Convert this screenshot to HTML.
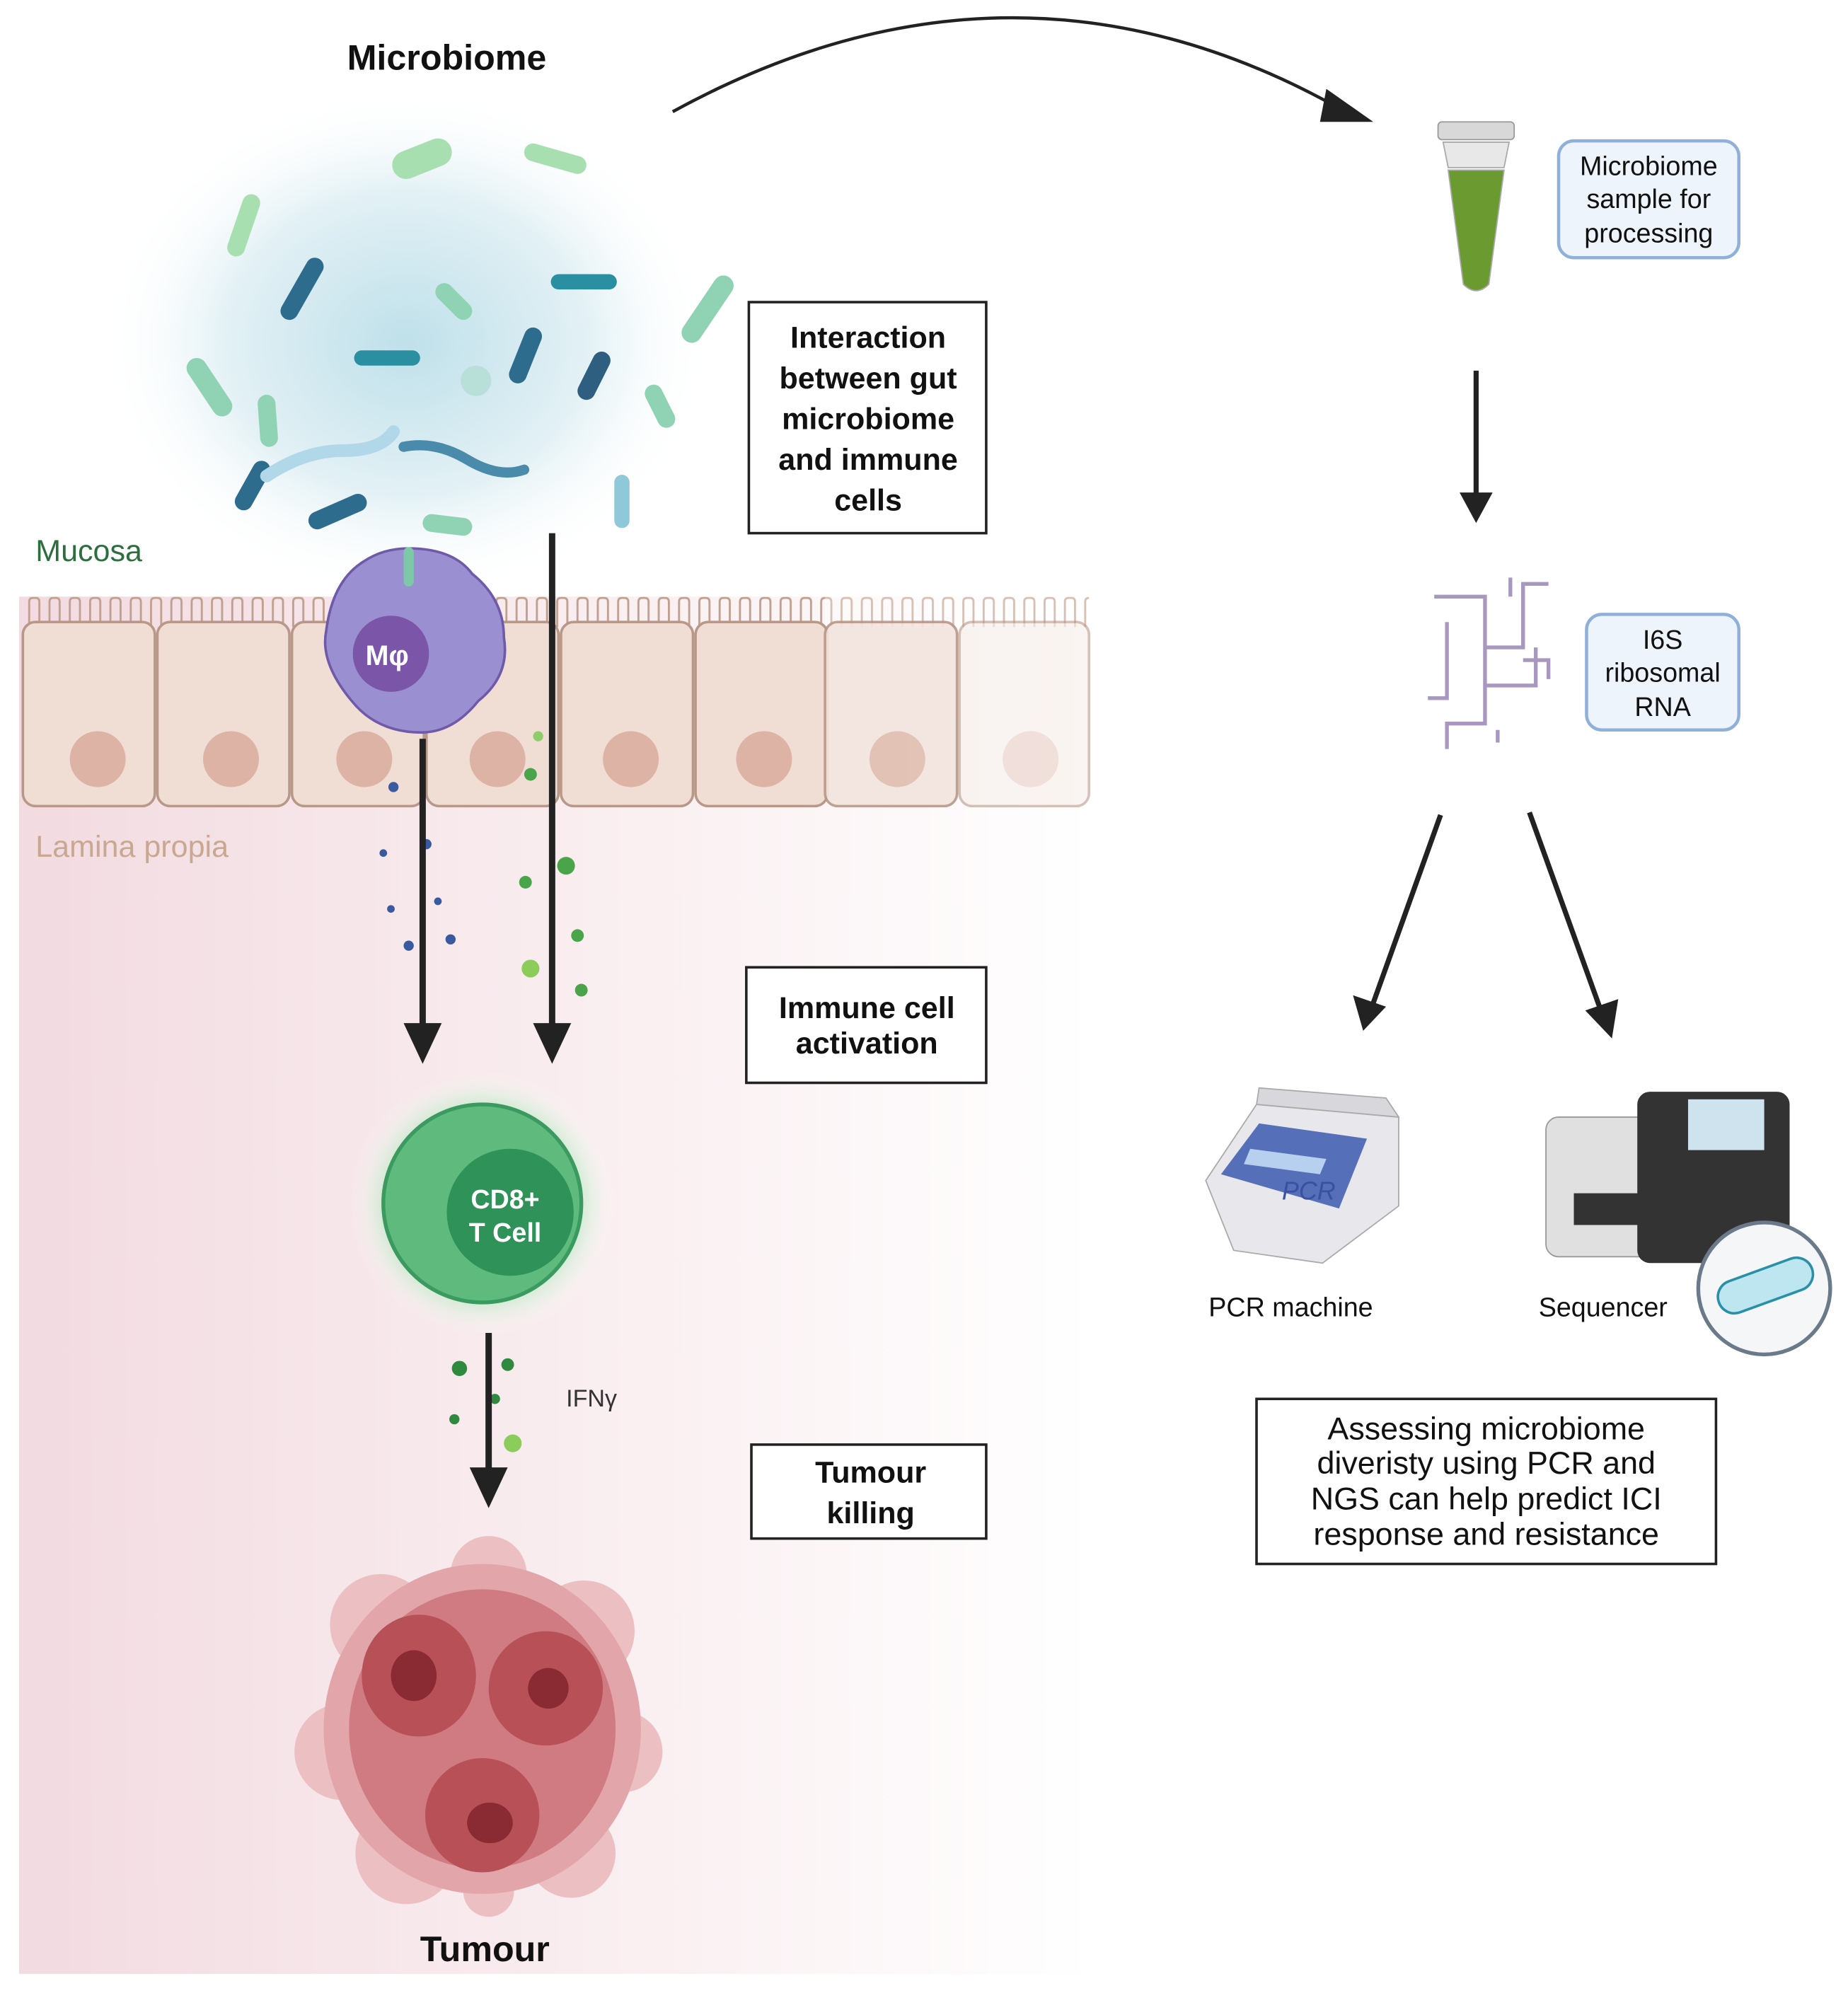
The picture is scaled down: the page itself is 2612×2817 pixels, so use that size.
<!DOCTYPE html>
<html><head><meta charset="utf-8"><style>
html,body{margin:0;padding:0;background:#fff}
svg{display:block}
text{font-family:"Liberation Sans",sans-serif}
</style></head><body>
<svg width="2612" height="2817" viewBox="0 0 1456 1570" preserveAspectRatio="none" xmlns="http://www.w3.org/2000/svg">
<defs>
<linearGradient id="bg" x1="0" x2="1" y1="0" y2="0">
<stop offset="0" stop-color="#f2dbe1"/><stop offset="0.6" stop-color="#faf0f2"/><stop offset="1" stop-color="#ffffff"/>
</linearGradient>
<radialGradient id="blue" cx="0.5" cy="0.5" r="0.5">
<stop offset="0" stop-color="#bfe0ea"/><stop offset="0.6" stop-color="#e3f1f5"/><stop offset="1" stop-color="#ffffff" stop-opacity="0"/>
</radialGradient>
<radialGradient id="glow" cx="0.5" cy="0.5" r="0.5">
<stop offset="0.6" stop-color="#9be0a8"/><stop offset="1" stop-color="#ffffff" stop-opacity="0"/>
</radialGradient>
<pattern id="villi" x="20" y="470" width="16" height="24" patternUnits="userSpaceOnUse">
<path d="M3,24 V4 q0,-3 3,-3 h2 q3,0 3,3 V24" fill="none" stroke="#c0a090" stroke-width="1.6"/>
</pattern>
</defs>
<rect x="15" y="470" width="845" height="1085" fill="url(#bg)"/>
<ellipse cx="320" cy="270" rx="240" ry="200" fill="url(#blue)"/>
<g stroke-linecap="round">
<line x1="228" y1="245" x2="248" y2="210" stroke="#2e6c8e" stroke-width="14"/>
<line x1="408" y1="295" x2="420" y2="265" stroke="#2e6c8e" stroke-width="14"/>
<line x1="462" y1="308" x2="474" y2="284" stroke="#2e5f80" stroke-width="14"/>
<line x1="192" y1="395" x2="206" y2="370" stroke="#2e6c8e" stroke-width="14"/>
<line x1="250" y1="410" x2="282" y2="396" stroke="#2e6c8e" stroke-width="14"/>
<line x1="285" y1="282" x2="325" y2="282" stroke="#2a8fa0" stroke-width="12"/>
<line x1="440" y1="222" x2="480" y2="222" stroke="#2a8fa0" stroke-width="12"/>
<line x1="175" y1="320" x2="155" y2="290" stroke="#8fd3b4" stroke-width="16"/>
<line x1="545" y1="262" x2="570" y2="225" stroke="#8fd3b4" stroke-width="16"/>
<line x1="186" y1="195" x2="198" y2="160" stroke="#a8dfb0" stroke-width="14"/>
<line x1="420" y1="120" x2="455" y2="130" stroke="#a8dfb0" stroke-width="14"/>
<line x1="320" y1="130" x2="345" y2="120" stroke="#a8dfb0" stroke-width="22"/>
<line x1="350" y1="230" x2="365" y2="245" stroke="#8fd3b4" stroke-width="14"/>
<line x1="515" y1="310" x2="525" y2="330" stroke="#8fd3b4" stroke-width="14"/>
<line x1="210" y1="318" x2="212" y2="345" stroke="#8fd3b4" stroke-width="14"/>
<line x1="340" y1="412" x2="365" y2="415" stroke="#8fd3b4" stroke-width="14"/>
<line x1="490" y1="380" x2="490" y2="410" stroke="#8fc8d8" stroke-width="12"/>
<circle cx="375" cy="300" r="12" fill="#b8e0d8"/>
<path d="M210,375 q30,-20 60,-20 t40,-15" stroke="#b0d8e8" stroke-width="10" fill="none"/>
<path d="M318,352 q25,-5 50,10 t45,8" stroke="#4a8aaa" stroke-width="8" fill="none"/>
</g>
<rect x="18" y="470" width="840" height="24" fill="url(#villi)"/>
<rect x="650" y="468" width="210" height="28" fill="#fff" opacity="0.35"/>
<g stroke="#b89888" stroke-width="2">
<rect x="18" y="490" width="104" height="145" rx="10" fill="#f0ddd4"/>
<rect x="124" y="490" width="104" height="145" rx="10" fill="#f0ddd4"/>
<rect x="230" y="490" width="104" height="145" rx="10" fill="#f0ddd4"/>
<rect x="336" y="490" width="104" height="145" rx="10" fill="#f0ddd4"/>
<rect x="442" y="490" width="104" height="145" rx="10" fill="#f0ddd4"/>
<rect x="548" y="490" width="104" height="145" rx="10" fill="#f0ddd4"/>
<rect x="650" y="490" width="104" height="145" rx="10" fill="#f3e4de" opacity="0.9"/>
<rect x="756" y="490" width="102" height="145" rx="10" fill="#f7eeea" opacity="0.6"/>
</g>
<g fill="#dcb3a4">
<circle cx="77" cy="598" r="22"/><circle cx="182" cy="598" r="22"/><circle cx="287" cy="598" r="22"/><circle cx="392" cy="598" r="22"/><circle cx="497" cy="598" r="22"/><circle cx="602" cy="598" r="22"/><circle cx="707" cy="598" r="22" opacity="0.7"/><circle cx="812" cy="598" r="22" opacity="0.3"/>
</g>
<path d="M322,432 q35,0 50,20 q25,20 25,50 q5,30 -20,50 q-20,25 -45,25 q-35,0 -55,-25 q-25,-30 -20,-55 q5,-40 30,-55 q15,-10 35,-10z" fill="#9a8fd0" stroke="#6e5aa8" stroke-width="2"/>
<circle cx="308" cy="515" r="30" fill="#7a55a8"/>
<text x="305" y="524" font-size="22" font-weight="bold" fill="#fff" text-anchor="middle">Mφ</text>
<line x1="322" y1="435" x2="322" y2="458" stroke="#7cc8a8" stroke-width="8" stroke-linecap="round"/>
<g fill="#3a5aa0"><circle cx="310" cy="620" r="4"/><circle cx="336" cy="665" r="4"/><circle cx="302" cy="672" r="3"/><circle cx="322" cy="745" r="4"/><circle cx="355" cy="740" r="4"/><circle cx="345" cy="710" r="3"/><circle cx="308" cy="716" r="3"/></g>
<g fill="#4aa54a"><circle cx="418" cy="610" r="5"/><circle cx="446" cy="682" r="7"/><circle cx="414" cy="695" r="5"/><circle cx="455" cy="737" r="5"/><circle cx="418" cy="763" r="7" fill="#8ccc5a"/><circle cx="458" cy="780" r="5"/><circle cx="424" cy="580" r="4" fill="#8ccc6a"/></g>
<line x1="333" y1="582" x2="333" y2="810" stroke="#222" stroke-width="5"/>
<path d="M318,806 L348,806 L333,838z" fill="#222"/>
<line x1="435" y1="420" x2="435" y2="810" stroke="#222" stroke-width="5"/>
<path d="M420,806 L450,806 L435,838z" fill="#222"/>
<circle cx="380" cy="948" r="105" fill="url(#glow)"/>
<circle cx="380" cy="948" r="78" fill="#5fba7d" stroke="#3a9a5f" stroke-width="3"/>
<circle cx="402" cy="955" r="50" fill="#2f9258"/>
<text x="398" y="952" font-size="21" font-weight="bold" fill="#fff" text-anchor="middle">CD8+</text>
<text x="398" y="978" font-size="21" font-weight="bold" fill="#fff" text-anchor="middle">T Cell</text>
<g fill="#2f8a3f"><circle cx="362" cy="1078" r="6"/><circle cx="400" cy="1075" r="5"/><circle cx="390" cy="1102" r="4"/><circle cx="358" cy="1118" r="4"/><circle cx="404" cy="1137" r="7" fill="#8ccc5a"/></g>
<line x1="385" y1="1050" x2="385" y2="1160" stroke="#222" stroke-width="5"/>
<path d="M370,1156 L400,1156 L385,1188z" fill="#222"/>
<text x="446" y="1108" font-size="19" fill="#333">IFNγ</text>
<g>
<g fill="#ecc0c3">
<circle cx="300" cy="1280" r="40"/><circle cx="460" cy="1285" r="40"/><circle cx="270" cy="1380" r="38"/><circle cx="490" cy="1380" r="32"/><circle cx="320" cy="1460" r="40"/><circle cx="450" cy="1460" r="35"/><circle cx="385" cy="1240" r="30"/><circle cx="385" cy="1490" r="20"/>
</g>
<ellipse cx="380" cy="1362" rx="125" ry="130" fill="#e2a5aa"/>
<ellipse cx="380" cy="1362" rx="105" ry="110" fill="#d07a82"/>
<ellipse cx="330" cy="1320" rx="45" ry="48" fill="#b85058"/>
<ellipse cx="430" cy="1330" rx="45" ry="45" fill="#b85058"/>
<ellipse cx="380" cy="1430" rx="45" ry="45" fill="#b85058"/>
<ellipse cx="326" cy="1320" rx="18" ry="20" fill="#8a2a32"/>
<ellipse cx="432" cy="1330" rx="16" ry="16" fill="#8a2a32"/>
<ellipse cx="386" cy="1436" rx="18" ry="16" fill="#8a2a32"/>
</g>
<text x="352" y="55" font-size="28" font-weight="bold" fill="#111" text-anchor="middle">Microbiome</text>
<text x="28" y="442" font-size="24" fill="#2e6e3e">Mucosa</text>
<text x="28" y="675" font-size="24" fill="#c8a890">Lamina propia</text>
<text x="382" y="1545" font-size="28" font-weight="bold" fill="#111" text-anchor="middle">Tumour</text>
<g fill="#fff" stroke="#222" stroke-width="2">
<rect x="590" y="238" width="187" height="182"/>
<rect x="588" y="762" width="189" height="91"/>
<rect x="592" y="1138" width="185" height="74"/>
</g>
<g font-size="24" font-weight="bold" fill="#111" text-anchor="middle">
<text x="684" y="274">Interaction</text><text x="684" y="306">between gut</text><text x="684" y="338">microbiome</text><text x="684" y="370">and immune</text><text x="684" y="402">cells</text>
<text x="683" y="802">Immune cell</text><text x="683" y="830">activation</text>
<text x="686" y="1168">Tumour</text><text x="686" y="1200">killing</text>
</g>
<path d="M530,88 Q800,-60 1060,88" fill="none" stroke="#222" stroke-width="2.5"/>
<path d="M1045,70 L1082,96 L1040,96z" fill="#222"/>
<rect x="1133" y="96" width="60" height="14" rx="3" fill="#d8d8d8" stroke="#999"/>
<path d="M1137,112 h52 l-4,20 h-44z" fill="#e8e8e8" stroke="#aaa"/>
<path d="M1141,134 h44 l-12,90 q-10,10 -20,0z" fill="#6a9a30" stroke="#aaa"/>
<rect x="1228" y="111" width="142" height="92" rx="12" fill="#eef4fb" stroke="#8fb0d8" stroke-width="2.5"/>
<g font-size="21" fill="#111" text-anchor="middle"><text x="1299" y="138">Microbiome</text><text x="1299" y="164">sample for</text><text x="1299" y="191">processing</text></g>
<line x1="1163" y1="292" x2="1163" y2="390" stroke="#222" stroke-width="4"/>
<path d="M1150,388 L1176,388 L1163,412z" fill="#222"/>
<g stroke="#a898c0" stroke-width="3" fill="none">
<path d="M1130,470 h40 v40 h30 v-50 h20 M1170,510 v60 h-30 v20 M1170,540 h40 v-30 M1140,490 v60 h-15 M1190,470 v-15 M1180,575 v10 M1200,520 h20 v15"/>
</g>
<rect x="1250" y="484" width="120" height="91" rx="12" fill="#eef4fb" stroke="#8fb0d8" stroke-width="2.5"/>
<g font-size="21" fill="#111" text-anchor="middle"><text x="1310" y="511">I6S</text><text x="1310" y="537">ribosomal</text><text x="1310" y="564">RNA</text></g>
<line x1="1135" y1="642" x2="1082" y2="790" stroke="#222" stroke-width="4"/>
<path d="M1066,784 L1092,793 L1074,812z" fill="#222"/>
<line x1="1205" y1="640" x2="1262" y2="798" stroke="#222" stroke-width="4"/>
<path d="M1249,796 L1275,787 L1270,818z" fill="#222"/>
<path d="M950,930 l40,-60 l112,10 l0,70 l-60,45 l-70,-10 z" fill="#e8e8ec" stroke="#aaa"/>
<path d="M990,870 l112,10 l-10,-15 l-100,-8z" fill="#d8d8dc" stroke="#aaa"/>
<path d="M962,925 l30,-40 l85,12 l-22,55z" fill="#5570b8"/>
<path d="M985,905 l60,8 l-5,12 l-60,-8z" fill="#b8d0f0"/>
<text x="1010" y="945" font-size="20" font-style="italic" fill="#3a50a0">PCR</text>
<text x="1017" y="1037" font-size="21" fill="#111" text-anchor="middle">PCR machine</text>
<rect x="1218" y="880" width="105" height="110" rx="10" fill="#e0e0e0" stroke="#999"/>
<rect x="1240" y="940" width="70" height="25" fill="#333"/>
<rect x="1290" y="860" width="120" height="135" rx="10" fill="#333"/>
<rect x="1330" y="866" width="60" height="40" fill="#cfe3ee"/>
<circle cx="1390" cy="1015" r="52" fill="#f4f6f8" stroke="#6a7a8a" stroke-width="3"/>
<rect x="1352" y="1000" width="78" height="26" rx="13" fill="#bde6f0" stroke="#2a90a8" stroke-width="2" transform="rotate(-20 1390 1013)"/>
<text x="1263" y="1037" font-size="21" fill="#111" text-anchor="middle">Sequencer</text>
<rect x="990" y="1102" width="362" height="130" fill="#fff" stroke="#222" stroke-width="2"/>
<g font-size="25" fill="#111" text-anchor="middle"><text x="1171" y="1134">Assessing microbiome</text><text x="1171" y="1161">diveristy using PCR and</text><text x="1171" y="1189">NGS can help predict ICI</text><text x="1171" y="1217">response and resistance</text></g>
</svg>
</body></html>
